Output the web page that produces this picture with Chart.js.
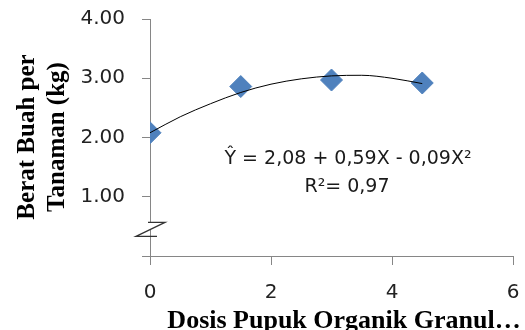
<!DOCTYPE html>
<html>
<head>
<meta charset="utf-8">
<script src="https://cdn.jsdelivr.net/npm/chart.js@4.4.0/dist/chart.umd.min.js"></script>
<style>
  html, body { margin: 0; padding: 0; background: #fff; }
  #wrap { width: 525px; height: 330px; }
</style>
</head>
<body>
<div id="wrap"><canvas id="grafico"></canvas></div>
<script>
// dosis (x) and observed berat buah (y)
var dosis = [0, 1.5, 3, 4.5];
var berat = [2.08, 2.86, 2.97, 2.92];
// trend curve
var trendX = [0, 0.5, 1, 1.5, 2, 2.5, 3, 3.5, 4, 4.5];
var trendY = [2.08, 2.35, 2.57, 2.76, 2.90, 2.99, 3.04, 3.05, 3.00, 2.91];
var xTicks = [0, 2, 4, 6];
var yTicks = [0, 1, 2, 3, 4];
var persamaan = ["Ŷ = 2,08 + 0,59X - 0,09X²", "R²= 0,97"];
var judulX = "Dosis Pupuk Organik Granul…";
var judulY = ["Berat Buah per", "Tanaman (kg)"];

var abu = "#868686";

var teksPlugin = {
  id: "teks",
  afterDraw: function(chart) {
    var ctx = chart.ctx;
    var xs = chart.scales.x, ys = chart.scales.y;
    ctx.save();
    // axis break symbol
    var bx = xs.left, by = ys.getPixelForValue(0.45);
    ctx.fillStyle = "#fff";
    ctx.beginPath();
    ctx.moveTo(bx - 2, by - 7); ctx.lineTo(bx + 15, by - 7);
    ctx.lineTo(bx - 12, by + 7); ctx.lineTo(bx - 14, by + 7);
    ctx.closePath(); ctx.fill();
    ctx.strokeStyle = "#333";
    ctx.lineWidth = 1.3;
    ctx.beginPath();
    ctx.moveTo(bx - 2, by - 7); ctx.lineTo(bx + 15, by - 7);
    ctx.lineTo(bx - 14, by + 7); ctx.lineTo(bx + 7, by + 7);
    ctx.stroke();

    // equation
    ctx.fillStyle = "#1a1a1a";
    ctx.font = "19px 'DejaVu Sans'";
    ctx.textAlign = "center";
    ctx.textBaseline = "middle";
    ctx.fillText(persamaan[0], 348, 159);
    ctx.fillText(persamaan[1], 347, 187);

    // axis titles
    ctx.fillStyle = "#000";
    ctx.font = "bold 26px 'Liberation Serif'";
    ctx.textAlign = "center";
    ctx.textBaseline = "alphabetic";
    ctx.fillText(judulX, 344, 328);
    ctx.font = "bold 25px 'Liberation Serif'";
    ctx.save();
    ctx.translate(34, 137);
    ctx.rotate(-Math.PI / 2);
    ctx.fillText(judulY[0], 0, 0);
    ctx.fillText(judulY[1], 0, 30);
    ctx.restore();
    ctx.restore();
  }
};

new Chart(document.getElementById("grafico").getContext("2d"), {
  type: "scatter",
  data: {
    datasets: [{
      data: dosis.map(function(x, i) { return { x: x, y: berat[i] }; }),
      pointStyle: "rectRot",
      pointRadius: 11,
      backgroundColor: "#4F81BD",
      borderColor: "#4F81BD",
      borderWidth: 1,
      order: 2
    }, {
      type: "line",
      data: trendX.map(function(x, i) { return { x: x, y: trendY[i] }; }),
      borderColor: "#000",
      borderWidth: 1,
      pointRadius: 0,
      fill: false,
      cubicInterpolationMode: "monotone",
      order: 1
    }]
  },
  options: {
    responsive: true,
    maintainAspectRatio: false,
    animation: false,
    events: [],
    layout: { padding: { top: 19, right: 11, left: 0, bottom: 0 } },
    plugins: { legend: { display: false }, tooltip: { enabled: false } },
    scales: {
      x: {
        type: "linear",
        min: 0, max: 6,
        afterBuildTicks: function(s) { s.ticks = xTicks.map(function(v) { return { value: v }; }); },
        afterFit: function(s) { s.height = 74; s.paddingLeft = 0; s.paddingRight = 0; },
        grid: { drawOnChartArea: false, color: abu, tickLength: 9, tickColor: abu },
        border: { color: abu, width: 1 },
        ticks: { color: "#222", font: { family: "DejaVu Sans", size: 20 }, padding: 16 }
      },
      y: {
        min: 0, max: 4,
        afterBuildTicks: function(s) { s.ticks = yTicks.map(function(v) { return { value: v }; }); },
        afterFit: function(s) { s.width = 150; s.paddingTop = 0; s.paddingBottom = 0; },
        grid: { drawOnChartArea: false, color: abu, tickLength: 8, tickColor: abu },
        border: { color: abu, width: 1 },
        ticks: {
          color: "#222",
          font: { family: "DejaVu Sans", size: 20 },
          padding: 17,
          callback: function(v) { return v === 0 ? "" : v.toFixed(2); }
        }
      }
    }
  },
  plugins: [teksPlugin]
});
</script>
</body>
</html>
